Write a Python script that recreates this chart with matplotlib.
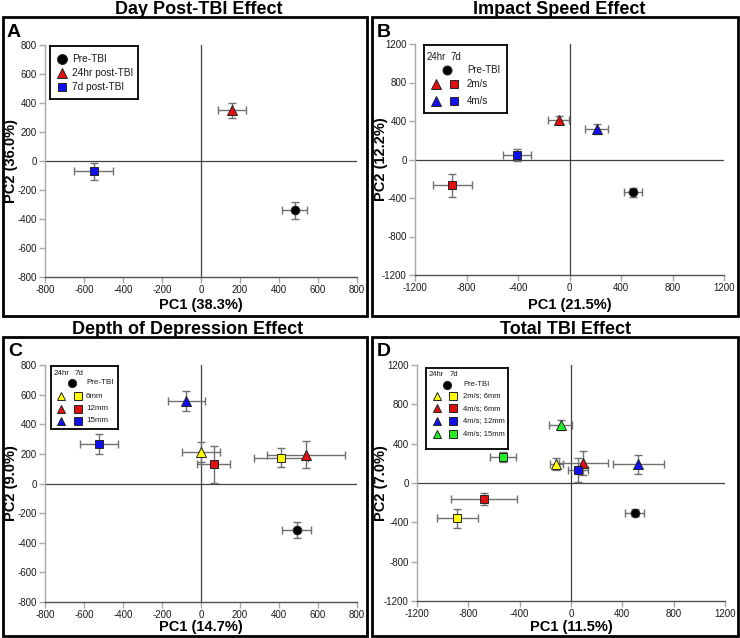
import matplotlib
matplotlib.use("Agg")
import matplotlib.pyplot as plt
from matplotlib.patches import Rectangle

plt.rcParams['font.family'] = ['Liberation Sans', 'DejaVu Sans']

# ---------------- data ----------------
# Panel A: Day post-TBI
a_labels = ["Pre-TBI", "24hr post-TBI", "7d post-TBI"]
a_x = [480, 160, -550]
a_y = [-340, 350, -70]
a_xerr = [65, 72, 100]
a_yerr = [57, 50, 58]
a_markers = ["o", "^", "s"]
a_colors = ["#000000", "#e01010", "#1010f0"]

# Panel B: Impact speed
b_groups = ["Pre-TBI", "24hr 2m/s", "24hr 4m/s", "7d 2m/s", "7d 4m/s"]
b_x = [490, -85, 210, -910, -410]
b_y = [-340, 410, 320, -270, 45]
b_xerr = [70, 80, 90, 150, 110]
b_yerr = [45, 40, 50, 120, 60]
b_markers = ["o", "^", "^", "s", "s"]
b_colors = ["#000000", "#e01010", "#1010f0", "#e01010", "#1010f0"]
b_leg_labels = ["Pre-TBI", "2m/s", "4m/s"]
b_leg_colors = ["#e01010", "#1010f0"]

# Panel C: Depth of depression
c_groups = ["Pre-TBI", "24hr 6mm", "24hr 12mm", "24hr 15mm", "7d 6mm", "7d 12mm", "7d 15mm"]
c_x = [490, 0, 540, -75, 410, 65, -525]
c_y = [-315, 210, 195, 555, 175, 130, 265]
c_xerr = [76, 97, 200, 96, 140, 83, 97]
c_yerr = [56, 68, 92, 68, 63, 125, 68]
c_markers = ["o", "^", "^", "^", "s", "s", "s"]
c_colors = ["#000000", "#ffff00", "#e01010", "#1010f0", "#ffff00", "#e01010", "#1010f0"]
c_leg_labels = ["Pre-TBI", "6mm", "12mm", "15mm"]
c_leg_colors = ["#ffff00", "#e01010", "#1010f0"]

# Panel D: Total TBI
d_groups = ["Pre-TBI", "24hr 2m/s;6mm", "24hr 4m/s;6mm", "24hr 4m/s;12mm", "24hr 4m/s;15mm",
            "7d 2m/s;6mm", "7d 4m/s;6mm", "7d 4m/s;12mm", "7d 4m/s;15mm"]
d_x = [495, -115, 95, 525, -80, -885, -680, 55, -530]
d_y = [-300, 195, 205, 190, 590, -360, -160, 130, 265]
d_xerr = [75, 50, 192, 197, 90, 162, 258, 80, 100]
d_yerr = [40, 58, 120, 97, 55, 100, 60, 120, 55]
d_markers = ["o", "^", "^", "^", "^", "s", "s", "s", "s"]
d_colors = ["#000000", "#ffff00", "#e01010", "#1010f0", "#22ee22",
            "#ffff00", "#e01010", "#1010f0", "#22ee22"]
d_leg_labels = ["Pre-TBI", "2m/s; 6mm", "4m/s; 6mm", "4m/s; 12mm", "4m/s; 15mm"]
d_leg_colors = ["#ffff00", "#e01010", "#1010f0", "#22ee22"]

W, H = 740, 638
fig = plt.figure(figsize=(W / 100, H / 100), dpi=100)

def px_axes(l, t, r, b, **kw):
    return fig.add_axes([l / W, 1 - b / H, (r - l) / W, (b - t) / H], **kw)

ERR_C = "#707070"
EDGE = "#222222"
MS = {"o": 6.2, "^": 6.8, "s": 5.6}

def draw_points(ax, xs, ys, xe, ye, mk, cols):
    for x, y, ex, ey, m, c in zip(xs, ys, xe, ye, mk, cols):
        ax.errorbar(x, y, xerr=ex, yerr=ey, fmt="none", ecolor=ERR_C,
                    elinewidth=1.0, capsize=3.2, capthick=1.0, zorder=3)
        ax.plot(x, y, marker=m, color=c, markersize=MS[m], markeredgecolor=EDGE,
                markeredgewidth=0.7, linestyle="none", zorder=4)

def style_axes(ax, lim, ticks, xlabel, ylabel, xl_y, yl_x):
    ax.set_xlim(-lim, lim)
    ax.set_ylim(-lim, lim)
    ax.set_xticks(ticks)
    ax.set_yticks(ticks)
    ax.set_xticklabels([str(t) for t in ticks])
    ax.set_yticklabels([str(t) for t in ticks])
    for s in ["top", "right"]:
        ax.spines[s].set_visible(False)
    ax.spines["left"].set_color("#a8a8a8")
    ax.spines["bottom"].set_color("#505050")
    for s in ["left", "bottom"]:
        ax.spines[s].set_linewidth(1.0)
    ax.tick_params(axis="both", which="both", direction="out", length=4.5,
                   color="#a8a8a8", labelsize=7, labelcolor="#1a1a1a", width=1.0, pad=1.5)
    ax.axhline(0, color="#404040", lw=0.9, zorder=1)
    ax.axvline(0, color="#404040", lw=0.9, zorder=1)
    ax.set_xlabel(xlabel, fontsize=10.5, fontweight="bold")
    ax.set_ylabel(ylabel, fontsize=10.5, fontweight="bold")
    ax.xaxis.set_label_coords(0.5, xl_y)
    ax.yaxis.set_label_coords(yl_x, 0.5)
    ax.patch.set_alpha(0)

def legend_box(box):
    l, t, r, b = box
    axL = px_axes(l, t, r, b, zorder=10)
    axL.set_xlim(l, r)
    axL.set_ylim(b, t)
    axL.set_xticks([])
    axL.set_yticks([])
    for s in axL.spines.values():
        s.set_color("black")
        s.set_linewidth(1.3)
    axL.set_facecolor("white")
    return axL

def lmark(axL, x, y, m, c, scale=1.0):
    axL.plot(x, y, marker=m, color=c, markersize=MS[m] * scale, markeredgecolor=EDGE,
             markeredgewidth=0.7, linestyle="none", clip_on=False)

def tuple_legend(box, head, rows, xs, labels, colors, fs, mscale):
    # xs = (24hr header x, 7d header x, triangle x, circle x, square x, text x)
    axL = legend_box(box)
    hx1, hx2, tx, cx, sx, txt_x = xs
    axL.text(hx1, head, "24hr", fontsize=fs, va="center", ha="left", color="#1a1a1a")
    axL.text(hx2, head, "7d", fontsize=fs, va="center", ha="left", color="#1a1a1a")
    lmark(axL, cx, rows[0], "o", "#000000", mscale)
    axL.text(txt_x, rows[0], labels[0], fontsize=fs, va="center", ha="left", color="#1a1a1a")
    for y, c, lab in zip(rows[1:], colors, labels[1:]):
        lmark(axL, tx, y, "^", c, mscale)
        lmark(axL, sx, y, "s", c, mscale)
        axL.text(txt_x, y, lab, fontsize=fs, va="center", ha="left", color="#1a1a1a")

# panel boxes
boxes = [(3, 17, 367, 316), (372, 17, 738, 316), (3, 337, 367, 636), (372, 337, 738, 636)]
for l, t, r, b in boxes:
    fig.patches.append(Rectangle((l / W, 1 - b / H), (r - l) / W, (b - t) / H,
                                 transform=fig.transFigure, fill=False,
                                 edgecolor="black", linewidth=2.0, zorder=0))

titles = [("Day Post-TBI Effect", 199, 13.5), ("Impact Speed Effect", 559, 13.5),
          ("Depth of Depression Effect", 188, 334.5), ("Total TBI Effect", 566, 334.5)]
for txt, x, y in titles:
    fig.text(x / W, 1 - y / H, txt, ha="center", va="baseline", fontsize=13, fontweight="bold")

letters = [("A", 7, 37), ("B", 377, 37), ("C", 8, 356.5), ("D", 377, 356.5)]
for txt, x, y in letters:
    fig.text(x / W, 1 - y / H, txt, ha="left", va="baseline", fontsize=14, fontweight="bold")

# ---- Panel A ----
axA = px_axes(45, 45, 357, 277)
style_axes(axA, 800, list(range(-800, 801, 200)), "PC1 (38.3%)", "PC2 (36.0%)",
           -0.092, -0.085)
draw_points(axA, a_x, a_y, a_xerr, a_yerr, a_markers, a_colors)
axLA = legend_box((50, 46, 138, 99))
for y, m, c, lab in zip([59, 73, 87], a_markers, a_colors, a_labels):
    lmark(axLA, 62, y, m, c, 1.15)
    axLA.text(72, y, lab, fontsize=7.3, va="center", ha="left", color="#1a1a1a")

# ---- Panel B ----
axB = px_axes(415, 44, 724, 275)
style_axes(axB, 1200, list(range(-1200, 1201, 400)), "PC1 (21.5%)", "PC2 (12.2%)",
           -0.10, -0.088)
draw_points(axB, b_x, b_y, b_xerr, b_yerr, b_markers, b_colors)
tuple_legend((424, 45, 507, 113), 57, [70, 84, 101], (427, 450, 436, 447, 454, 467),
             b_leg_labels, b_leg_colors, 7, 1.05)

# ---- Panel C ----
axC = px_axes(45, 365, 357, 602)
style_axes(axC, 800, list(range(-800, 801, 200)), "PC1 (14.7%)", "PC2 (9.0%)",
           -0.075, -0.085)
draw_points(axC, c_x, c_y, c_xerr, c_yerr, c_markers, c_colors)
tuple_legend((51, 366, 118, 429), 373.5, [383, 396, 408.5, 421], (54, 75, 61, 72, 78, 86),
             c_leg_labels, c_leg_colors, 5.8, 0.95)

# ---- Panel D ----
axD = px_axes(417, 365, 725, 601)
style_axes(axD, 1200, list(range(-1200, 1201, 400)), "PC1 (11.5%)", "PC2 (7.0%)",
           -0.08, -0.094)
draw_points(axD, d_x, d_y, d_xerr, d_yerr, d_markers, d_colors)
tuple_legend((426, 368, 508, 449), 375, [385, 396, 408.5, 421, 434], (429, 450, 437, 447, 453, 463),
             d_leg_labels, d_leg_colors, 5.5, 0.95)

fig.savefig("out.png", dpi=100)
